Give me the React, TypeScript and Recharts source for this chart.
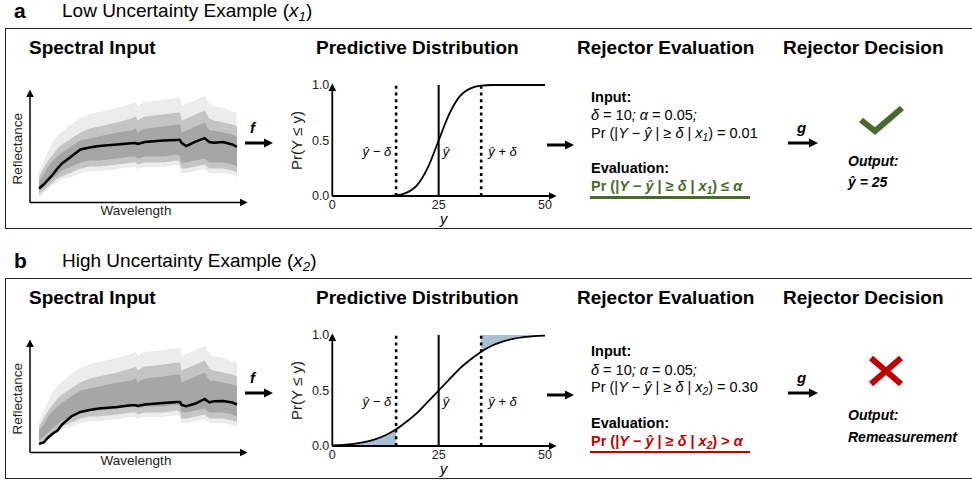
import React from 'react';
import { ComposedChart, Area, Line, XAxis, YAxis, ReferenceLine, Label } from 'recharts';

const FONT = '"Liberation Sans", Arial, Helvetica, sans-serif';

// spectral input: wavelength (nm) and reflectance envelopes of the spectra cloud
const wavelengths = [350, 400, 450, 500, 550, 600, 700, 800, 900, 1000, 1200, 1350, 1400, 1420, 1500, 1700, 1850, 1880, 1900, 1950, 2050, 2150, 2200, 2250, 2350, 2450, 2500];
const outerTop = [0.15, 0.2, 0.25, 0.3, 0.33, 0.35, 0.39, 0.42, 0.44, 0.45, 0.47, 0.49, 0.5, 0.48, 0.5, 0.51, 0.52, 0.52, 0.48, 0.49, 0.51, 0.53, 0.49, 0.48, 0.47, 0.45, 0.45];
const midTop = [0.13, 0.17, 0.21, 0.24, 0.27, 0.29, 0.32, 0.35, 0.37, 0.38, 0.4, 0.42, 0.43, 0.41, 0.43, 0.44, 0.45, 0.45, 0.41, 0.42, 0.44, 0.46, 0.42, 0.41, 0.4, 0.39, 0.38];
const innerTop = [0.11, 0.14, 0.18, 0.21, 0.23, 0.25, 0.28, 0.31, 0.32, 0.33, 0.35, 0.36, 0.37, 0.35, 0.37, 0.38, 0.39, 0.39, 0.35, 0.36, 0.38, 0.4, 0.36, 0.36, 0.35, 0.34, 0.33];
const innerBottom = [0.06, 0.08, 0.1, 0.12, 0.14, 0.16, 0.18, 0.2, 0.21, 0.21, 0.22, 0.23, 0.23, 0.22, 0.23, 0.23, 0.24, 0.23, 0.2, 0.2, 0.21, 0.22, 0.2, 0.2, 0.2, 0.19, 0.18];
const midBottom = [0.04, 0.06, 0.08, 0.1, 0.12, 0.13, 0.15, 0.17, 0.18, 0.18, 0.19, 0.2, 0.2, 0.19, 0.2, 0.2, 0.21, 0.2, 0.17, 0.17, 0.18, 0.19, 0.17, 0.17, 0.17, 0.16, 0.15];
const outerBottom = [0.03, 0.05, 0.07, 0.09, 0.1, 0.12, 0.13, 0.15, 0.16, 0.16, 0.17, 0.18, 0.18, 0.17, 0.18, 0.18, 0.19, 0.18, 0.15, 0.15, 0.16, 0.17, 0.15, 0.15, 0.15, 0.14, 0.13];
const spectrumX1 = [0.07, 0.09, 0.115, 0.14, 0.17, 0.195, 0.23, 0.265, 0.275, 0.283, 0.29, 0.296, 0.297, 0.293, 0.302, 0.31, 0.313, 0.313, 0.297, 0.282, 0.304, 0.322, 0.302, 0.299, 0.302, 0.29, 0.278];
const spectrumX2 = [0.043, 0.05, 0.075, 0.095, 0.11, 0.14, 0.18, 0.203, 0.212, 0.22, 0.228, 0.236, 0.236, 0.233, 0.24, 0.248, 0.252, 0.252, 0.238, 0.232, 0.245, 0.268, 0.25, 0.256, 0.257, 0.25, 0.24];

// predictive distribution: Pr(Y <= y)
const yValues = [0, 2.5, 5, 7.5, 10, 12.5, 15, 17.5, 20, 22.5, 25, 27.5, 30, 32.5, 35, 37.5, 40, 42.5, 45, 47.5, 50];
const cdfX1 = [0, 0, 0, 0, 0, 0, 0.005, 0.03, 0.1, 0.26, 0.5, 0.74, 0.9, 0.97, 0.995, 1, 1, 1, 1, 1, 1];
const cdfX2 = [0.005, 0.01, 0.02, 0.035, 0.06, 0.097, 0.15, 0.22, 0.3, 0.4, 0.5, 0.6, 0.7, 0.78, 0.85, 0.903, 0.94, 0.965, 0.98, 0.99, 0.995];
const yTicks = [0, 25, 50];
const probTicks = [0, 0.5, 1];
const yHat = 25;
const delta = 10;

const GREEN = '#476a2c';
const RED = '#c00000';
const SHADE = '#a6c1d6';

const Sub = ({ children }: { children: React.ReactNode }) => (
  <span style={{ fontSize: '0.7em', verticalAlign: '-0.3em', lineHeight: 0 }}>{children}</span>
);

const Txt = ({ x, y, size = 14.5, bold = false, italic = false, color = '#000', children }: any) => (
  <div
    style={{
      position: 'absolute', left: x, top: y - 10, height: 20, lineHeight: '20px', fontSize: size,
      fontWeight: bold ? 700 : 400, fontStyle: italic ? 'italic' : 'normal', color, whiteSpace: 'nowrap',
    }}
  >
    {children}
  </div>
);

const Arrow = ({ x, y, len }: { x: number; y: number; len: number }) => (
  <svg style={{ position: 'absolute', left: x, top: y - 5 }} width={len} height={10}>
    <line x1={0} y1={5} x2={len - 6} y2={5} stroke="#000" strokeWidth={3} />
    <path d={`M${len - 9},0.5 L${len},5 L${len - 9},9.5 z`} fill="#000" />
  </svg>
);

function ArrowMarker({ id, refX }: { id: string; refX: number }) {
  return (
    <defs>
      <marker id={id} viewBox="0 0 10 10" refX={refX} refY={5} markerWidth={8} markerHeight={8}
        markerUnits="userSpaceOnUse" orient="auto-start-reverse">
        <path d="M0,0 L10,5 L0,10 z" fill="#000" />
      </marker>
    </defs>
  );
}

function SpectralChart({ id, spectrum, top }: { id: string; spectrum: number[]; top: number }) {
  const data = wavelengths.map((w, i) => ({
    w,
    outer: [outerBottom[i], outerTop[i]],
    mid: [midBottom[i], midTop[i]],
    inner: [innerBottom[i], innerTop[i]],
    sample: spectrum[i],
  }));
  const axis = { stroke: '#000', strokeWidth: 1.5 };
  const lab = { fontSize: 13.5, fill: '#222', fontFamily: FONT };
  return (
    <div style={{ position: 'absolute', left: 0, top, width: 258, height: 135 }}>
      <ComposedChart width={258} height={135} data={data} margin={{ top: 10, right: 16, bottom: 16.5, left: 29 }}>
        <ArrowMarker id={id} refX={3} />
        <XAxis dataKey="w" type="number" domain={[252, 2555]} height={1} tick={false} tickLine={false}
          axisLine={{ ...axis, markerEnd: `url(#${id})` }}>
          <Label value="Wavelength" position="bottom" offset={2} {...lab} style={lab} />
        </XAxis>
        <YAxis type="number" domain={[0, 0.5375]} width={1} tick={false} tickLine={false}
          axisLine={{ ...axis, markerStart: `url(#${id})` }}>
          <Label value="Reflectance" angle={-90} position="left" offset={12} {...lab}
            style={{ ...lab, textAnchor: 'middle' }} />
        </YAxis>
        <Area dataKey="outer" type="linear" fill="#ececec" fillOpacity={1} stroke="#e2e2e2" strokeWidth={0.6} isAnimationActive={false} />
        <Area dataKey="mid" type="linear" fill="#c4c4c4" fillOpacity={1} stroke="none" isAnimationActive={false} />
        <Area dataKey="inner" type="linear" fill="#a6a6a6" fillOpacity={1} stroke="none" isAnimationActive={false} />
        <Line dataKey="sample" type="linear" stroke="#000" strokeWidth={2.5} dot={false} isAnimationActive={false} />
      </ComposedChart>
    </div>
  );
}

function CdfChart({ id, cdf, top, shaded }: { id: string; cdf: number[]; top: number; shaded: boolean }) {
  const data = yValues.map((y, i) => ({
    y,
    p: cdf[i],
    low: shaded && y <= yHat - delta ? [0, cdf[i]] : null,
    high: shaded && y >= yHat + delta ? [cdf[i], 1] : null,
  }));
  const axis = { stroke: '#000', strokeWidth: 1.8 };
  const tick = { fontSize: 12.5, fill: '#222', fontFamily: FONT };
  const refLabel = { fontSize: 13, fontStyle: 'italic', fill: '#000', fontFamily: FONT };
  return (
    <div style={{ position: 'absolute', left: 282, top, width: 290, height: 152 }}>
      <ComposedChart width={290} height={152} data={data} margin={{ top: 10, right: 17, bottom: 30, left: 49.3 }}>
        <ArrowMarker id={id} refX={8} />
        <XAxis dataKey="y" type="number" domain={[0, 52.35]} ticks={yTicks} height={1} tickLine={false}
          tickSize={0} tickMargin={4} tick={tick} axisLine={{ ...axis, markerEnd: `url(#${id})` }}>
          <Label value="y" position="bottom" offset={17} style={{ fontSize: 14.5, fontStyle: 'italic', fill: '#000', fontFamily: FONT }} />
        </XAxis>
        <YAxis type="number" domain={[0, 1]} ticks={probTicks} width={1} tickLine={false} tickSize={0} tickMargin={3}
          tick={tick} tickFormatter={(v: number) => v.toFixed(1)} axisLine={{ ...axis, markerStart: `url(#${id})` }}>
          <Label value="Pr(Y ≤ y)" angle={-90} position="left" offset={34.6}
            style={{ fontSize: 15, fill: '#222', textAnchor: 'middle', fontFamily: FONT }} />
        </YAxis>
        {shaded && <Area dataKey="low" type="monotone" fill={SHADE} fillOpacity={1} stroke="none" isAnimationActive={false} />}
        {shaded && <Area dataKey="high" type="monotone" fill={SHADE} fillOpacity={1} stroke="none" isAnimationActive={false} />}
        <ReferenceLine x={yHat - delta} stroke="#000" strokeWidth={2.6} strokeDasharray="3 3.7"
          label={{ value: 'ŷ − δ', position: 'left', offset: 5, dy: 11, style: refLabel }} />
        <ReferenceLine x={yHat} stroke="#000" strokeWidth={2}
          label={{ value: 'ŷ', position: 'right', offset: 4, dy: 11, style: refLabel }} />
        <ReferenceLine x={yHat + delta} stroke="#000" strokeWidth={2.6} strokeDasharray="3 3.7"
          label={{ value: 'ŷ + δ', position: 'right', offset: 7, dy: 11, style: refLabel }} />
        <Line dataKey="p" type="monotone" stroke="#000" strokeWidth={1.8} dot={false} isAnimationActive={false} />
      </ComposedChart>
    </div>
  );
}

function Panel(props: {
  o: number; s: number; letter: string; title: string; idx: string; spectrum: number[]; cdf: number[];
  shaded: boolean; prob: string; op: string; color: string; accepted: boolean;
}) {
  const { o, s, letter, title, idx, spectrum, cdf, shaded, prob, op, color, accepted } = props;
  const head = { position: 'absolute' as const, top: o + 36, lineHeight: '24px', fontSize: 19, fontWeight: 700, whiteSpace: 'nowrap' as const };
  return (
    <>
      <div style={{ position: 'absolute', left: 14, top: o - 2, lineHeight: '26px', fontSize: 21, fontWeight: 700 }}>{letter}</div>
      <div style={{ position: 'absolute', left: 62, top: o - 2, lineHeight: '26px', fontSize: 19, whiteSpace: 'nowrap' }}>
        {title} (<i>x<Sub>{idx}</Sub></i>)
      </div>
      <div style={{ position: 'absolute', left: 5, top: o + 28, width: 990, height: 201, border: '1.3px solid #222', boxSizing: 'border-box' }} />
      <div style={{ ...head, left: 29 }}>Spectral Input</div>
      <div style={{ ...head, left: 316 }}>Predictive Distribution</div>
      <div style={{ ...head, left: 577 }}>Rejector Evaluation</div>
      <div style={{ ...head, left: 783 }}>Rejector Decision</div>

      <SpectralChart id={`sp${idx}`} spectrum={spectrum} top={o + 85} />
      <Txt x={250} y={o + 128} size={15} bold italic>f</Txt>
      <Arrow x={245} y={o + 143} len={28} />

      <CdfChart id={`cd${idx}`} cdf={cdf} top={o + 75} shaded={shaded} />
      <Arrow x={547} y={o + 145} len={27} />

      <Txt x={591} y={o + s + 96.7} bold>Input:</Txt>
      <Txt x={591} y={o + s + 115}><i>δ</i> = 10<i>; α</i> = 0.05<i>;</i></Txt>
      <Txt x={591} y={o + s + 132.7}>
        Pr (|<i>Y</i> − <i>ŷ</i> | ≥ <i>δ</i> | <i>x<Sub>{idx}</Sub></i>) = {prob}
      </Txt>
      <Txt x={591} y={o + s + 168.3} bold>Evaluation:</Txt>
      <Txt x={591} y={o + s + 186} bold color={color}>
        Pr (|<i>Y</i> − <i>ŷ</i> | ≥ <i>δ</i> | <i>x<Sub>{idx}</Sub></i>) {op} <i>α</i>
      </Txt>
      <div style={{ position: 'absolute', left: 590, top: o + s + 196, width: 160, height: 2.6, background: color }} />

      <Txt x={797} y={o + 128} size={15} bold italic>g</Txt>
      <Arrow x={788} y={o + 143} len={30} />

      <svg style={{ position: 'absolute', left: 850, top: o + 98 }} width={70} height={45}>
        {accepted ? (
          <polyline points="11,22 25,33 52,10" fill="none" stroke={GREEN} strokeWidth={6} />
        ) : (
          <g stroke={RED} strokeWidth={6}>
            <line x1={21} y1={10} x2={51} y2={36} />
            <line x1={51} y1={10} x2={21} y2={36} />
          </g>
        )}
      </svg>
      <Txt x={848} y={o + s + 160.7} size={14} bold italic>Output:</Txt>
      <Txt x={848} y={o + s + 182.3} size={14} bold italic>{accepted ? 'ŷ = 25' : 'Remeasurement'}</Txt>
    </>
  );
}

export default function App() {
  return (
    <div style={{ position: 'absolute', left: 0, top: 0, width: 972, height: 486, overflow: 'hidden', background: '#fff', fontFamily: FONT, color: '#000' }}>
      <Panel o={0} s={0} letter="a" title="Low Uncertainty Example" idx="1" spectrum={spectrumX1} cdf={cdfX1}
        shaded={false} prob="0.01" op="≤" color={GREEN} accepted />
      <Panel o={250} s={4.5} letter="b" title="High Uncertainty Example" idx="2" spectrum={spectrumX2} cdf={cdfX2}
        shaded prob="0.30" op=">" color={RED} accepted={false} />
    </div>
  );
}
